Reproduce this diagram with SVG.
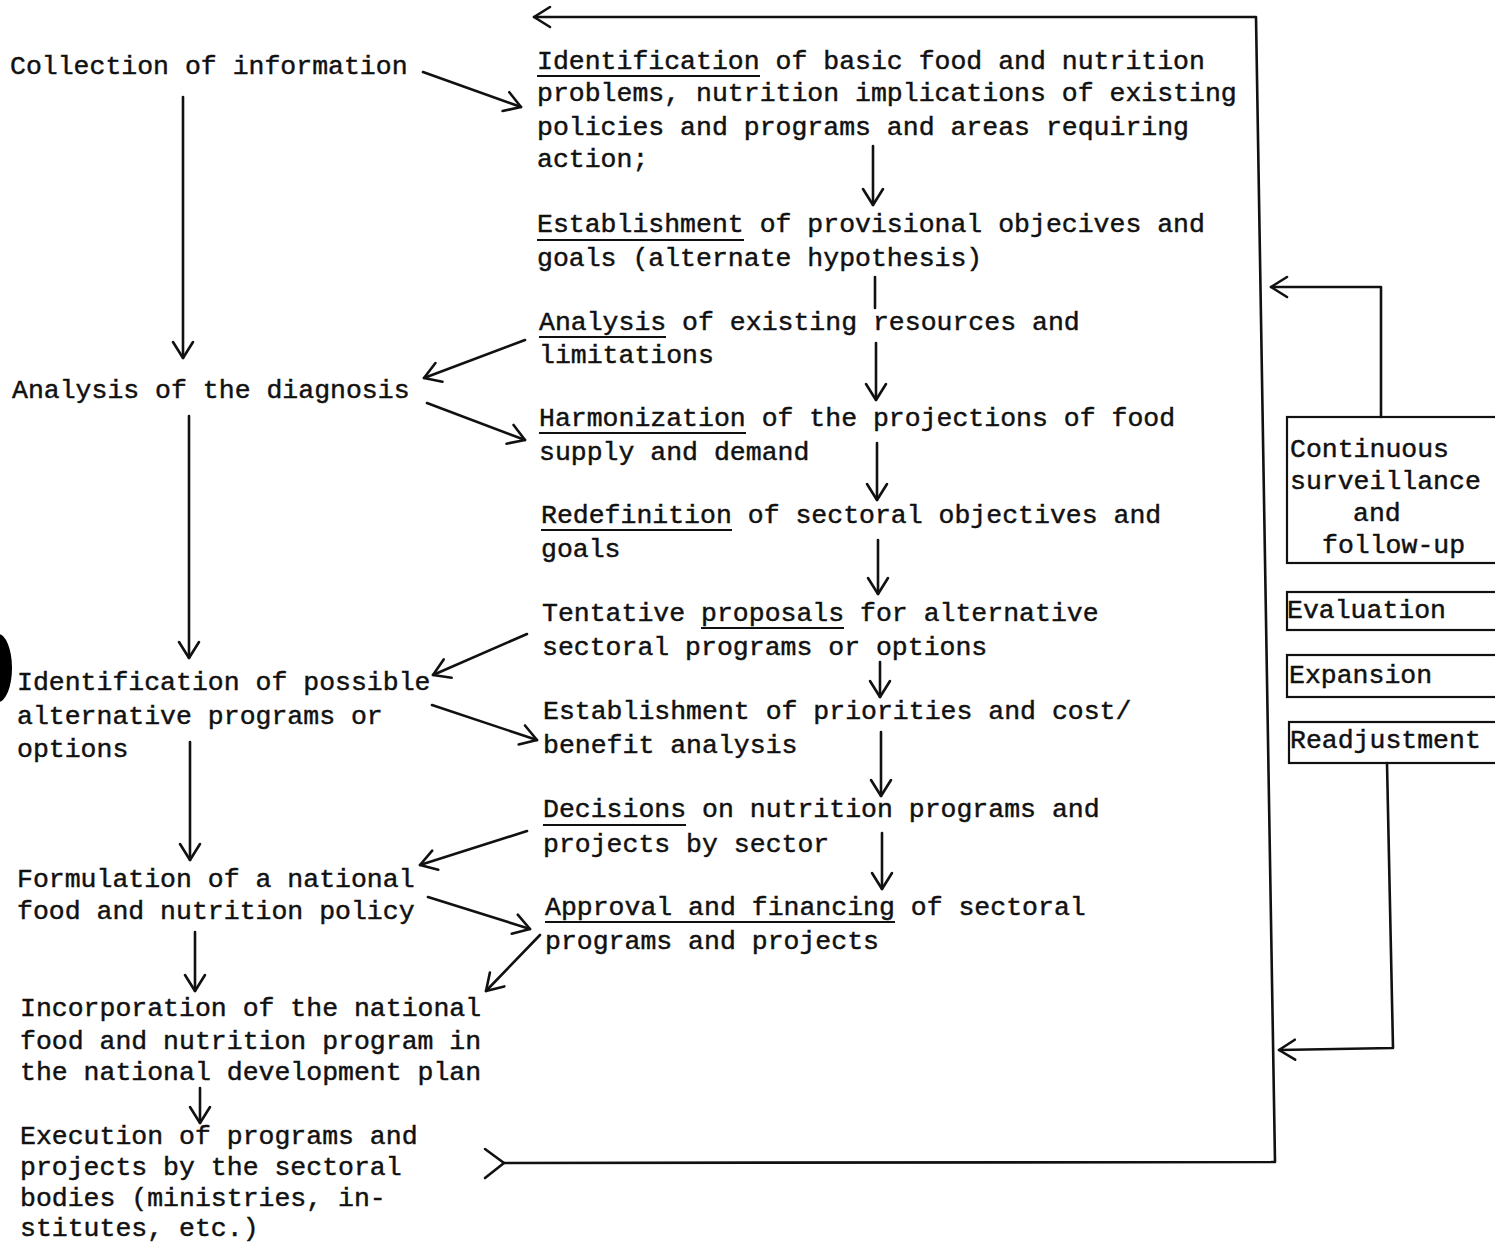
<svg xmlns="http://www.w3.org/2000/svg" width="1495" height="1245" viewBox="0 0 1495 1245">
<style>
text{font-family:"Liberation Mono","Courier New",monospace;font-size:26.5px;fill:#111;stroke:#111;stroke-width:0.45}
.ul{stroke:#111;stroke-width:2}
.c{fill:none;stroke:#111;stroke-width:2.6;stroke-linecap:round;stroke-linejoin:round}
.box{fill:none;stroke:#111;stroke-width:2.2}
</style>
<defs>
<marker id="ah" markerUnits="userSpaceOnUse" viewBox="-20 -14 24 28" markerWidth="24" markerHeight="28" refX="0" refY="0" orient="auto" overflow="visible">
<path d="M-16,-10 L0,0 L-16,10" fill="none" stroke="#111" stroke-width="2.6" stroke-linecap="round" stroke-linejoin="round"/>
</marker>
</defs>
<rect width="1495" height="1245" fill="#fff"/>
<ellipse cx="-2" cy="668" rx="14" ry="34" fill="#000"/>

<g id="n-collection"><text x="10" y="74">Collection of information</text></g>
<g id="n-analysis-diagnosis"><text x="12" y="398">Analysis of the diagnosis</text></g>
<g id="n-identification-possible"><text x="17" y="690">Identification of possible</text><text x="17" y="724">alternative programs or</text><text x="17" y="757">options</text></g>
<g id="n-formulation"><text x="17" y="887">Formulation of a national</text><text x="17" y="919">food and nutrition policy</text></g>
<g id="n-incorporation"><text x="20" y="1016">Incorporation of the national</text><text x="20" y="1049">food and nutrition program in</text><text x="20" y="1080">the national development plan</text></g>
<g id="n-execution"><text x="20" y="1144">Execution of programs and</text><text x="20" y="1175">projects by the sectoral</text><text x="20" y="1206">bodies (ministries, in-</text><text x="20" y="1236">stitutes, etc.)</text></g>

<g id="m-identification"><text x="537" y="69">Identification of basic food and nutrition</text><text x="537" y="101">problems, nutrition implications of existing</text><text x="537" y="135">policies and programs and areas requiring</text><text x="537" y="167">action;</text><line class="ul" x1="537" y1="76" x2="760" y2="76"/></g>
<g id="m-establishment"><text x="537" y="232">Establishment of provisional objecives and</text><text x="537" y="266">goals (alternate hypothesis)</text><line class="ul" x1="537" y1="240" x2="744" y2="240"/></g>
<g id="m-analysis"><text x="539" y="330">Analysis of existing resources and</text><text x="539" y="363">limitations</text><line class="ul" x1="539" y1="337" x2="666" y2="337"/></g>
<g id="m-harmonization"><text x="539" y="426">Harmonization of the projections of food</text><text x="539" y="460">supply and demand</text><line class="ul" x1="539" y1="433" x2="746" y2="433"/></g>
<g id="m-redefinition"><text x="541" y="523">Redefinition of sectoral objectives and</text><text x="541" y="557">goals</text><line class="ul" x1="541" y1="530" x2="732" y2="530"/></g>
<g id="m-tentative"><text x="542" y="621">Tentative proposals for alternative</text><text x="542" y="655">sectoral programs or options</text><line class="ul" x1="701" y1="628" x2="844" y2="628"/></g>
<g id="m-priorities"><text x="543" y="719">Establishment of priorities and cost/</text><text x="543" y="753">benefit analysis</text></g>
<g id="m-decisions"><text x="543" y="817">Decisions on nutrition programs and</text><text x="543" y="852">projects by sector</text><line class="ul" x1="543" y1="825" x2="686" y2="825"/></g>
<g id="m-approval"><text x="545" y="915">Approval and financing of sectoral</text><text x="545" y="949">programs and projects</text><line class="ul" x1="545" y1="922" x2="895" y2="922"/></g>

<g id="r-surveillance"><rect class="box" x="1287" y="417" width="240" height="146"/><text x="1290" y="457">Continuous</text><text x="1290" y="489">surveillance</text><text x="1353" y="521">and</text><text x="1322" y="553">follow-up</text></g>
<g id="r-evaluation"><rect class="box" x="1287" y="592" width="240" height="38"/><text x="1287" y="618">Evaluation</text></g>
<g id="r-expansion"><rect class="box" x="1287" y="655" width="240" height="42"/><text x="1289" y="683">Expansion</text></g>
<g id="r-readjustment"><rect class="box" x="1289" y="722" width="240" height="41"/><text x="1290" y="748">Readjustment</text></g>

<g id="connectors">
<path class="c" d="M183,97 L183,358" marker-end="url(#ah)"/>
<path class="c" d="M189,416 L189,658" marker-end="url(#ah)"/>
<path class="c" d="M190,742 L190,860" marker-end="url(#ah)"/>
<path class="c" d="M195,932 L195,991" marker-end="url(#ah)"/>
<path class="c" d="M200,1088 L200,1123" marker-end="url(#ah)"/>

<path class="c" d="M873,146 L873,205" marker-end="url(#ah)"/>
<path class="c" d="M875,277 L875,308"/>
<path class="c" d="M876,343 L876,400" marker-end="url(#ah)"/>
<path class="c" d="M877,443 L877,500" marker-end="url(#ah)"/>
<path class="c" d="M878,540 L878,594" marker-end="url(#ah)"/>
<path class="c" d="M880,662 L880,697" marker-end="url(#ah)"/>
<path class="c" d="M881,732 L881,796" marker-end="url(#ah)"/>
<path class="c" d="M882,833 L882,889" marker-end="url(#ah)"/>

<path class="c" d="M423,72 L521,107" marker-end="url(#ah)"/>
<path class="c" d="M525,340 L424,378" marker-end="url(#ah)"/>
<path class="c" d="M427,403 L525,440" marker-end="url(#ah)"/>
<path class="c" d="M527,634 L433,675" marker-end="url(#ah)"/>
<path class="c" d="M432,705 L537,740" marker-end="url(#ah)"/>
<path class="c" d="M527,831 L420,865" marker-end="url(#ah)"/>
<path class="c" d="M428,897 L530,929" marker-end="url(#ah)"/>
<path class="c" d="M540,935 L486,991" marker-end="url(#ah)"/>

<path class="c" d="M504,1163 L1275,1162 L1256,17 L534,17" marker-end="url(#ah)"/>
<path class="c" d="M485,1149 L504,1163 L485,1178"/>
<path class="c" d="M1381,417 L1381,287 L1271,287" marker-end="url(#ah)"/>
<path class="c" d="M1387,763 L1393,1048 L1279,1050" marker-end="url(#ah)"/>
</g>
</svg>
